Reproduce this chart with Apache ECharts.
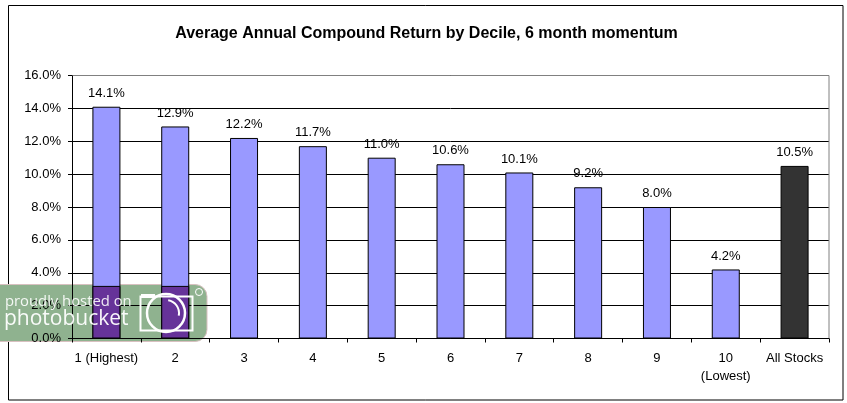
<!DOCTYPE html>
<html><head><meta charset="utf-8">
<style>html,body{margin:0;padding:0;background:#fff}#c{width:847px;height:403px}</style>
<script src="https://cdn.jsdelivr.net/npm/echarts@6/dist/echarts.min.js"></script>
</head><body><div id="c"></div>
<script>
const categories = ['1 (Highest)','2','3','4','5','6','7','8','9','10\n(Lowest)','All Stocks'];
const returns = [14.1,12.9,12.2,11.7,11.0,10.6,10.1,9.2,8.0,4.2,10.5];
const watermarkTint = [3.2,3.2];
const titleText = 'Average Annual Compound Return by Decile, 6 month momentum';
const FONT = '"Liberation Sans", Arial, sans-serif';
const chart = echarts.init(document.getElementById('c'), null, {renderer:'canvas'});
chart.setOption({
  animation:false,
  backgroundColor:'#fff',
  title:{text:titleText,left:421.5,top:21,textAlign:'center',
    textStyle:{fontFamily:FONT,fontSize:16,fontWeight:'bold',color:'#000'}},
  grid:{left:72,right:18,top:75.5,bottom:64.5,show:false},
  xAxis:{type:'category',data:categories,
    axisLine:{lineStyle:{color:'#000',width:1}},
    axisTick:{show:true,length:4,lineStyle:{color:'#000'}},
    axisLabel:{fontFamily:FONT,fontSize:13,color:'#000',margin:11,lineHeight:18,interval:0},
    splitLine:{show:false}},
  yAxis:{type:'value',min:0,max:16,interval:2,
    axisLine:{show:true,lineStyle:{color:'#000',width:1}},
    axisTick:{show:true,length:4,lineStyle:{color:'#000'}},
    axisLabel:{fontFamily:FONT,fontSize:13,color:'#000',margin:11,formatter:v=>v.toFixed(1)+'%'},
    splitLine:{show:true,lineStyle:{color:'#000',width:1}}},
  series:[
    {type:'bar',barWidth:28,barGap:'-100%',
     data:returns.map((v,i)=>({value:v,itemStyle:{color:i===returns.length-1?'#333333':'#9999ff',borderColor:'#000',borderWidth:1}})),
     label:{show:true,position:'top',distance:7,fontFamily:FONT,fontSize:13,color:'#000',formatter:p=>p.value.toFixed(1)+'%'}},
    {type:'bar',barWidth:28,barGap:'-100%',data:watermarkTint,silent:true,
     itemStyle:{color:'#663399',borderColor:'#000',borderWidth:1}}
  ],
  graphic:[
    {type:'rect',z:-5,shape:{x:8.5,y:5.5,width:834.5,height:394.5},style:{fill:'#fff',stroke:'#000',lineWidth:1}},
    {type:'rect',z:-1,shape:{x:-10,y:284.5,width:217,height:57,r:[0,12,12,0]},style:{fill:'#8fb28f',stroke:'#d8c0c0',lineWidth:1}},
    {type:'line',z:1,shape:{x1:72.5,y1:75.5,x2:829,y2:75.5},style:{stroke:'#808080',lineWidth:1}},
    {type:'line',z:1,shape:{x1:829,y1:75.5,x2:829,y2:338},style:{stroke:'#808080',lineWidth:1}},
    {type:'text',z:20,x:5,y:294,style:{text:'proudly hosted on',fontFamily:'"Open Sans",sans-serif',fontSize:14.8,fill:'rgba(255,255,255,0.9)'}},
    {type:'text',z:20,x:4,y:309,style:{text:'photobucket',fontFamily:'"Open Sans",sans-serif',fontSize:21,fill:'rgba(255,255,255,0.95)'}},
    {type:'rect',z:20,shape:{x:140.5,y:296.5,width:52,height:34},style:{fill:'none',stroke:'#fff',lineWidth:2}},
    {type:'rect',z:20,shape:{x:141,y:294,width:14,height:4},style:{fill:'#fff'}},
    {type:'circle',z:20,shape:{cx:166,cy:313,r:19},style:{fill:'none',stroke:'#fff',lineWidth:2.5}},
    {type:'arc',z:20,shape:{cx:166,cy:313,r:13,startAngle:-1.4,endAngle:0.2},style:{fill:'none',stroke:'#fff',lineWidth:2}},
    {type:'circle',z:20,shape:{cx:199,cy:292,r:3.5},style:{fill:'none',stroke:'#fff',lineWidth:1}}
  ]
});
</script></body></html>
